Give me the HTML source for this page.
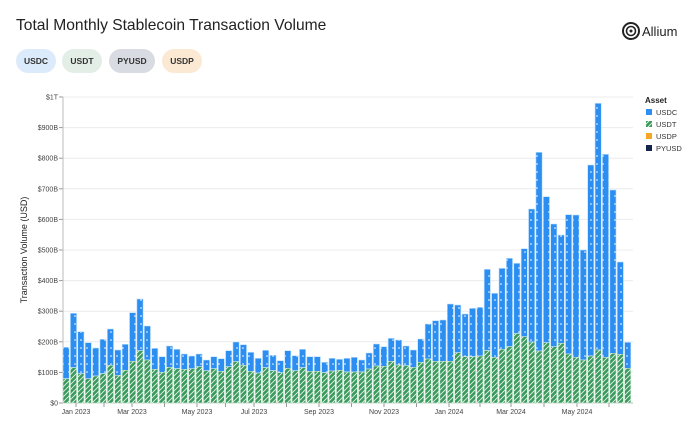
<!DOCTYPE html>
<html><head><meta charset="utf-8">
<style>
body{margin:0;width:700px;height:425px;background:#fff;font-family:"Liberation Sans",sans-serif;overflow:hidden;position:relative}
.t{position:absolute;left:16px;top:17px;font-size:15.6px;color:#222}
.p{position:absolute;top:49px;height:24px;line-height:24px;border-radius:12px;font-size:8.5px;font-weight:bold;color:#333;text-align:center}
</style></head><body>
<div class="t">Total Monthly Stablecoin Transaction Volume</div>
<div class="p" style="left:16px;width:40px;background:#dcebfb">USDC</div>
<div class="p" style="left:62px;width:40px;background:#e2eee6">USDT</div>
<div class="p" style="left:109px;width:46px;background:#d8dbe2">PYUSD</div>
<div class="p" style="left:162px;width:40px;background:#fbe9d3">USDP</div>
<svg width="700" height="425" style="position:absolute;left:0;top:0">
<defs>
<pattern id="dots" width="6" height="8" patternUnits="userSpaceOnUse"><rect width="6" height="8" fill="#2b8ef0"/><circle cx="3" cy="4" r="0.8" fill="#fff"/></pattern>
<pattern id="str" width="5" height="5" patternUnits="userSpaceOnUse"><rect width="5" height="5" fill="#3a9a5e"/><path d="M0 5L5 0M-1 1L1 -1M4 6L6 4" stroke="#e6f2e9" stroke-width="0.9"/></pattern>
</defs>
<g id="grid"></g>
<g id="bars"></g>
<g font-size="7" fill="#444" id="lab"></g>
<text transform="translate(27,250) rotate(-90)" text-anchor="middle" font-size="9" fill="#222">Transaction Volume (USD)</text>
<text x="645" y="103" font-size="8" font-weight="bold" fill="#222">Asset</text>
<rect x="646" y="109" width="6" height="6" fill="url(#dots)"/><text x="656" y="115" font-size="7.5" fill="#333">USDC</text>
<rect x="646" y="121" width="6" height="6" fill="url(#str)"/><text x="656" y="127" font-size="7.5" fill="#333">USDT</text>
<rect x="646" y="133" width="6" height="6" fill="#f5a623"/><text x="656" y="139" font-size="7.5" fill="#333">USDP</text>
<rect x="646" y="145" width="6" height="6" fill="#14244a"/><text x="656" y="151" font-size="7.5" fill="#333">PYUSD</text>
<circle cx="631" cy="31" r="8" fill="none" stroke="#222" stroke-width="2"/>
<circle cx="631" cy="31" r="4.5" fill="none" stroke="#222" stroke-width="1.6"/>
<circle cx="631" cy="31" r="1.5" fill="#222"/>
<text x="642" y="36" font-size="13" fill="#222">Allium</text>
</svg>
<script>
var T=[202,100,155,188,204,178,147,210,193,98,57,138,205,230,198,208,222,228,222,240,230,236,212,186,194,217,235,211,226,242].map(v=>280+v/3);
var U=[296,263,281,296,288,281,256,286,271,244,212,240,268,277,262,266,268,266,260,272,266,274,260,245,256,274,279,263,272,278].map(v=>280+v/3);
var t2=[152,167,148,170,170,187,175,178,175,172,180,159,132,140,115,120,138,150,117,72,62,60,12,15,42],u2=[205,212,203,214,214,218,213,211,216,216,216,207,198,199,184,195,197,202,187,177,184,184,184,158,170];
t2.forEach((v,i)=>{T.push(300+v/3);U.push(300+u2[i]/3)});
var t3=[655,652,538,610,535,505,520,476,357,187,320,402,435,374,375,480,225,40,193,300,516,757],u3=[800,798,782,802,778,770,731,740,756,783,758,770,760,792,802,810,798,780,802,790,793,835];
t3.forEach((v,i)=>{T.push(90+v/3);U.push(90+u3[i]/3)});
var n=T.length,x0=63,pw=569/n,b=403,s='';
for(var i=0;i<n;i++){var x=x0+i*pw,w=pw-1.2;
s+='<rect x="'+x.toFixed(2)+'" y="'+T[i].toFixed(1)+'" width="'+w.toFixed(2)+'" height="'+(U[i]-T[i]).toFixed(1)+'" fill="url(#dots)" stroke="#bfe0ff" stroke-width="0.6"/>';
s+='<rect x="'+x.toFixed(2)+'" y="'+U[i].toFixed(1)+'" width="'+w.toFixed(2)+'" height="'+(b-U[i]).toFixed(1)+'" fill="url(#str)" stroke="#d4ecd9" stroke-width="0.6"/>';}
document.getElementById('bars').innerHTML=s;
var g='',l='',names=['$0','$100B','$200B','$300B','$400B','$500B','$600B','$700B','$800B','$900B','$1T'];
for(var k=0;k<=10;k++){var y=403-30.6*k;g+='<line x1="63" x2="633" y1="'+y+'" y2="'+y+'" stroke="#ececec"/><line x1="59" x2="63" y1="'+y+'" y2="'+y+'" stroke="#999"/>';l+='<text x="58" y="'+(y+2.5)+'" text-anchor="end">'+names[k]+'</text>';}
g+='<line x1="63" x2="63" y1="97" y2="403" stroke="#bbb"/><line x1="63" x2="633" y1="403" y2="403" stroke="#bbb"/>';
var xl=[['Jan 2023',76],['Mar 2023',132],['May 2023',197],['Jul 2023',254],['Sep 2023',319],['Nov 2023',384],['Jan 2024',449],['Mar 2024',511],['May 2024',577]];
xl.forEach((a,i)=>{g+='<line x1="'+a[1]+'" x2="'+a[1]+'" y1="403" y2="407" stroke="#999"/>';l+='<text x="'+a[1]+'" y="414" text-anchor="middle">'+a[0]+'</text>';
var nx=i<8?(a[1]+xl[i+1][1])/2:609;g+='<line x1="'+nx+'" x2="'+nx+'" y1="403" y2="407" stroke="#999"/>';});
document.getElementById('grid').innerHTML=g;document.getElementById('lab').innerHTML=l;
</script>
</body></html>
